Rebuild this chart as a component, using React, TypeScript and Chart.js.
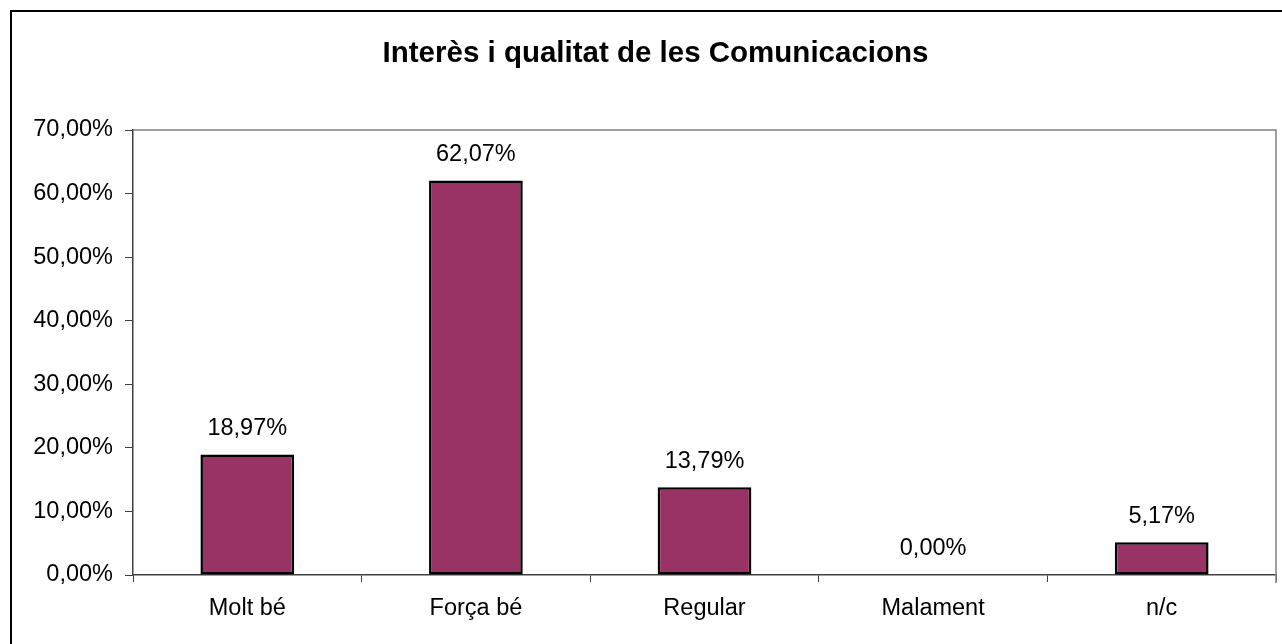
import React, { useEffect, useRef } from 'react';
import { Chart, registerables } from 'chart.js';

Chart.register(...registerables);

const chartTitle = 'Interès i qualitat de les Comunicacions';
const categories = ['Molt bé', 'Força bé', 'Regular', 'Malament', 'n/c'];
const values = [18.97, 62.07, 13.79, 0.0, 5.17];
const yTickValues = [0, 10, 20, 30, 40, 50, 60, 70];

const fmt = (v: number) => v.toFixed(2).replace('.', ',') + '%';
const FONT = "'Liberation Sans', Arial, Helvetica, sans-serif";
const TXT = 23.5;

const framePlugin = {
  id: 'framePlugin',
  beforeDatasetsDraw(chart: any) {
    const { ctx, chartArea } = chart;
    ctx.save();
    ctx.strokeStyle = '#808080';
    ctx.lineWidth = 1.5;
    ctx.beginPath();
    ctx.moveTo(chartArea.left, chartArea.top);
    ctx.lineTo(chartArea.right, chartArea.top);
    ctx.lineTo(chartArea.right, chartArea.bottom + 8);
    ctx.stroke();
    ctx.restore();
  },
};

const labelPlugin = {
  id: 'labelPlugin',
  afterDatasetsDraw(chart: any) {
    const { ctx } = chart;
    const meta = chart.getDatasetMeta(0);
    const data = chart.data.datasets[0].data as number[];
    ctx.save();
    ctx.font = `${TXT}px ${FONT}`;
    ctx.fillStyle = '#000';
    ctx.textAlign = 'center';
    ctx.textBaseline = 'middle';
    meta.data.forEach((bar: any, i: number) => {
      ctx.fillText(fmt(data[i]), bar.x, bar.y - 26);
    });
    ctx.restore();
  },
};

export default function App() {
  const ref = useRef<HTMLCanvasElement | null>(null);

  useEffect(() => {
    if (!ref.current) return;
    Chart.defaults.font.family = FONT;
    const chart = new Chart(ref.current, {
      type: 'bar',
      data: {
        labels: categories,
        datasets: [
          {
            data: values,
            backgroundColor: '#993366',
            borderColor: '#000000',
            borderWidth: (c: any) => (c.raw === 0 ? 0 : 2.5),
            borderSkipped: false,
            barPercentage: 0.41,
            categoryPercentage: 1,
          },
        ],
      },
      options: {
        animation: false,
        responsive: true,
        maintainAspectRatio: false,
        layout: { padding: 0 },
        plugins: {
          legend: { display: false },
          tooltip: { enabled: false },
          title: {
            display: true,
            text: chartTitle,
            color: '#000',
            font: { size: 29.5, weight: 'bold', family: FONT, lineHeight: 1.2 },
            padding: { top: 23.8, bottom: 58.8 },
          },
        },
        scales: {
          x: {
            offset: true,
            grid: {
              offset: true,
              drawOnChartArea: false,
              drawTicks: true,
              tickLength: 7,
              color: '#404040',
              lineWidth: 1,
            },
            border: { display: true, color: '#404040', width: 1.5 },
            ticks: {
              color: '#000',
              font: { size: TXT },
              padding: 12,
              maxRotation: 0,
              autoSkip: false,
            },
            afterFit: (s: any) => {
              s.height = 93;
            },
          },
          y: {
            min: 0,
            max: 70,
            afterBuildTicks: (s: any) => {
              s.ticks = yTickValues.map((v) => ({ value: v }));
            },
            grid: {
              drawOnChartArea: false,
              drawTicks: true,
              tickLength: 8,
              color: '#404040',
              lineWidth: 1,
            },
            border: { display: true, color: '#404040', width: 1.5 },
            ticks: {
              color: '#000',
              font: { size: TXT },
              padding: 12,
              callback: (v: any) => fmt(Number(v)),
            },
            afterFit: (s: any) => {
              s.width = 121;
            },
          },
          y2: {
            position: 'right',
            display: true,
            grid: { display: false },
            ticks: { display: false },
            border: { display: false },
            afterFit: (s: any) => {
              s.width = 23;
            },
          },
        },
      },
      plugins: [framePlugin, labelPlugin],
    } as any);
    return () => chart.destroy();
  }, []);

  return (
    <div
      style={{
        position: 'fixed',
        left: 0,
        top: 0,
        width: 1282,
        height: 644,
        overflow: 'hidden',
        background: '#fff',
      }}
    >
      <div
        style={{
          position: 'absolute',
          left: 10,
          top: 10,
          width: 1291,
          height: 660,
          border: '2px solid #000',
          boxSizing: 'border-box',
          background: '#fff',
        }}
      >
        <canvas ref={ref} />
      </div>
    </div>
  );
}
